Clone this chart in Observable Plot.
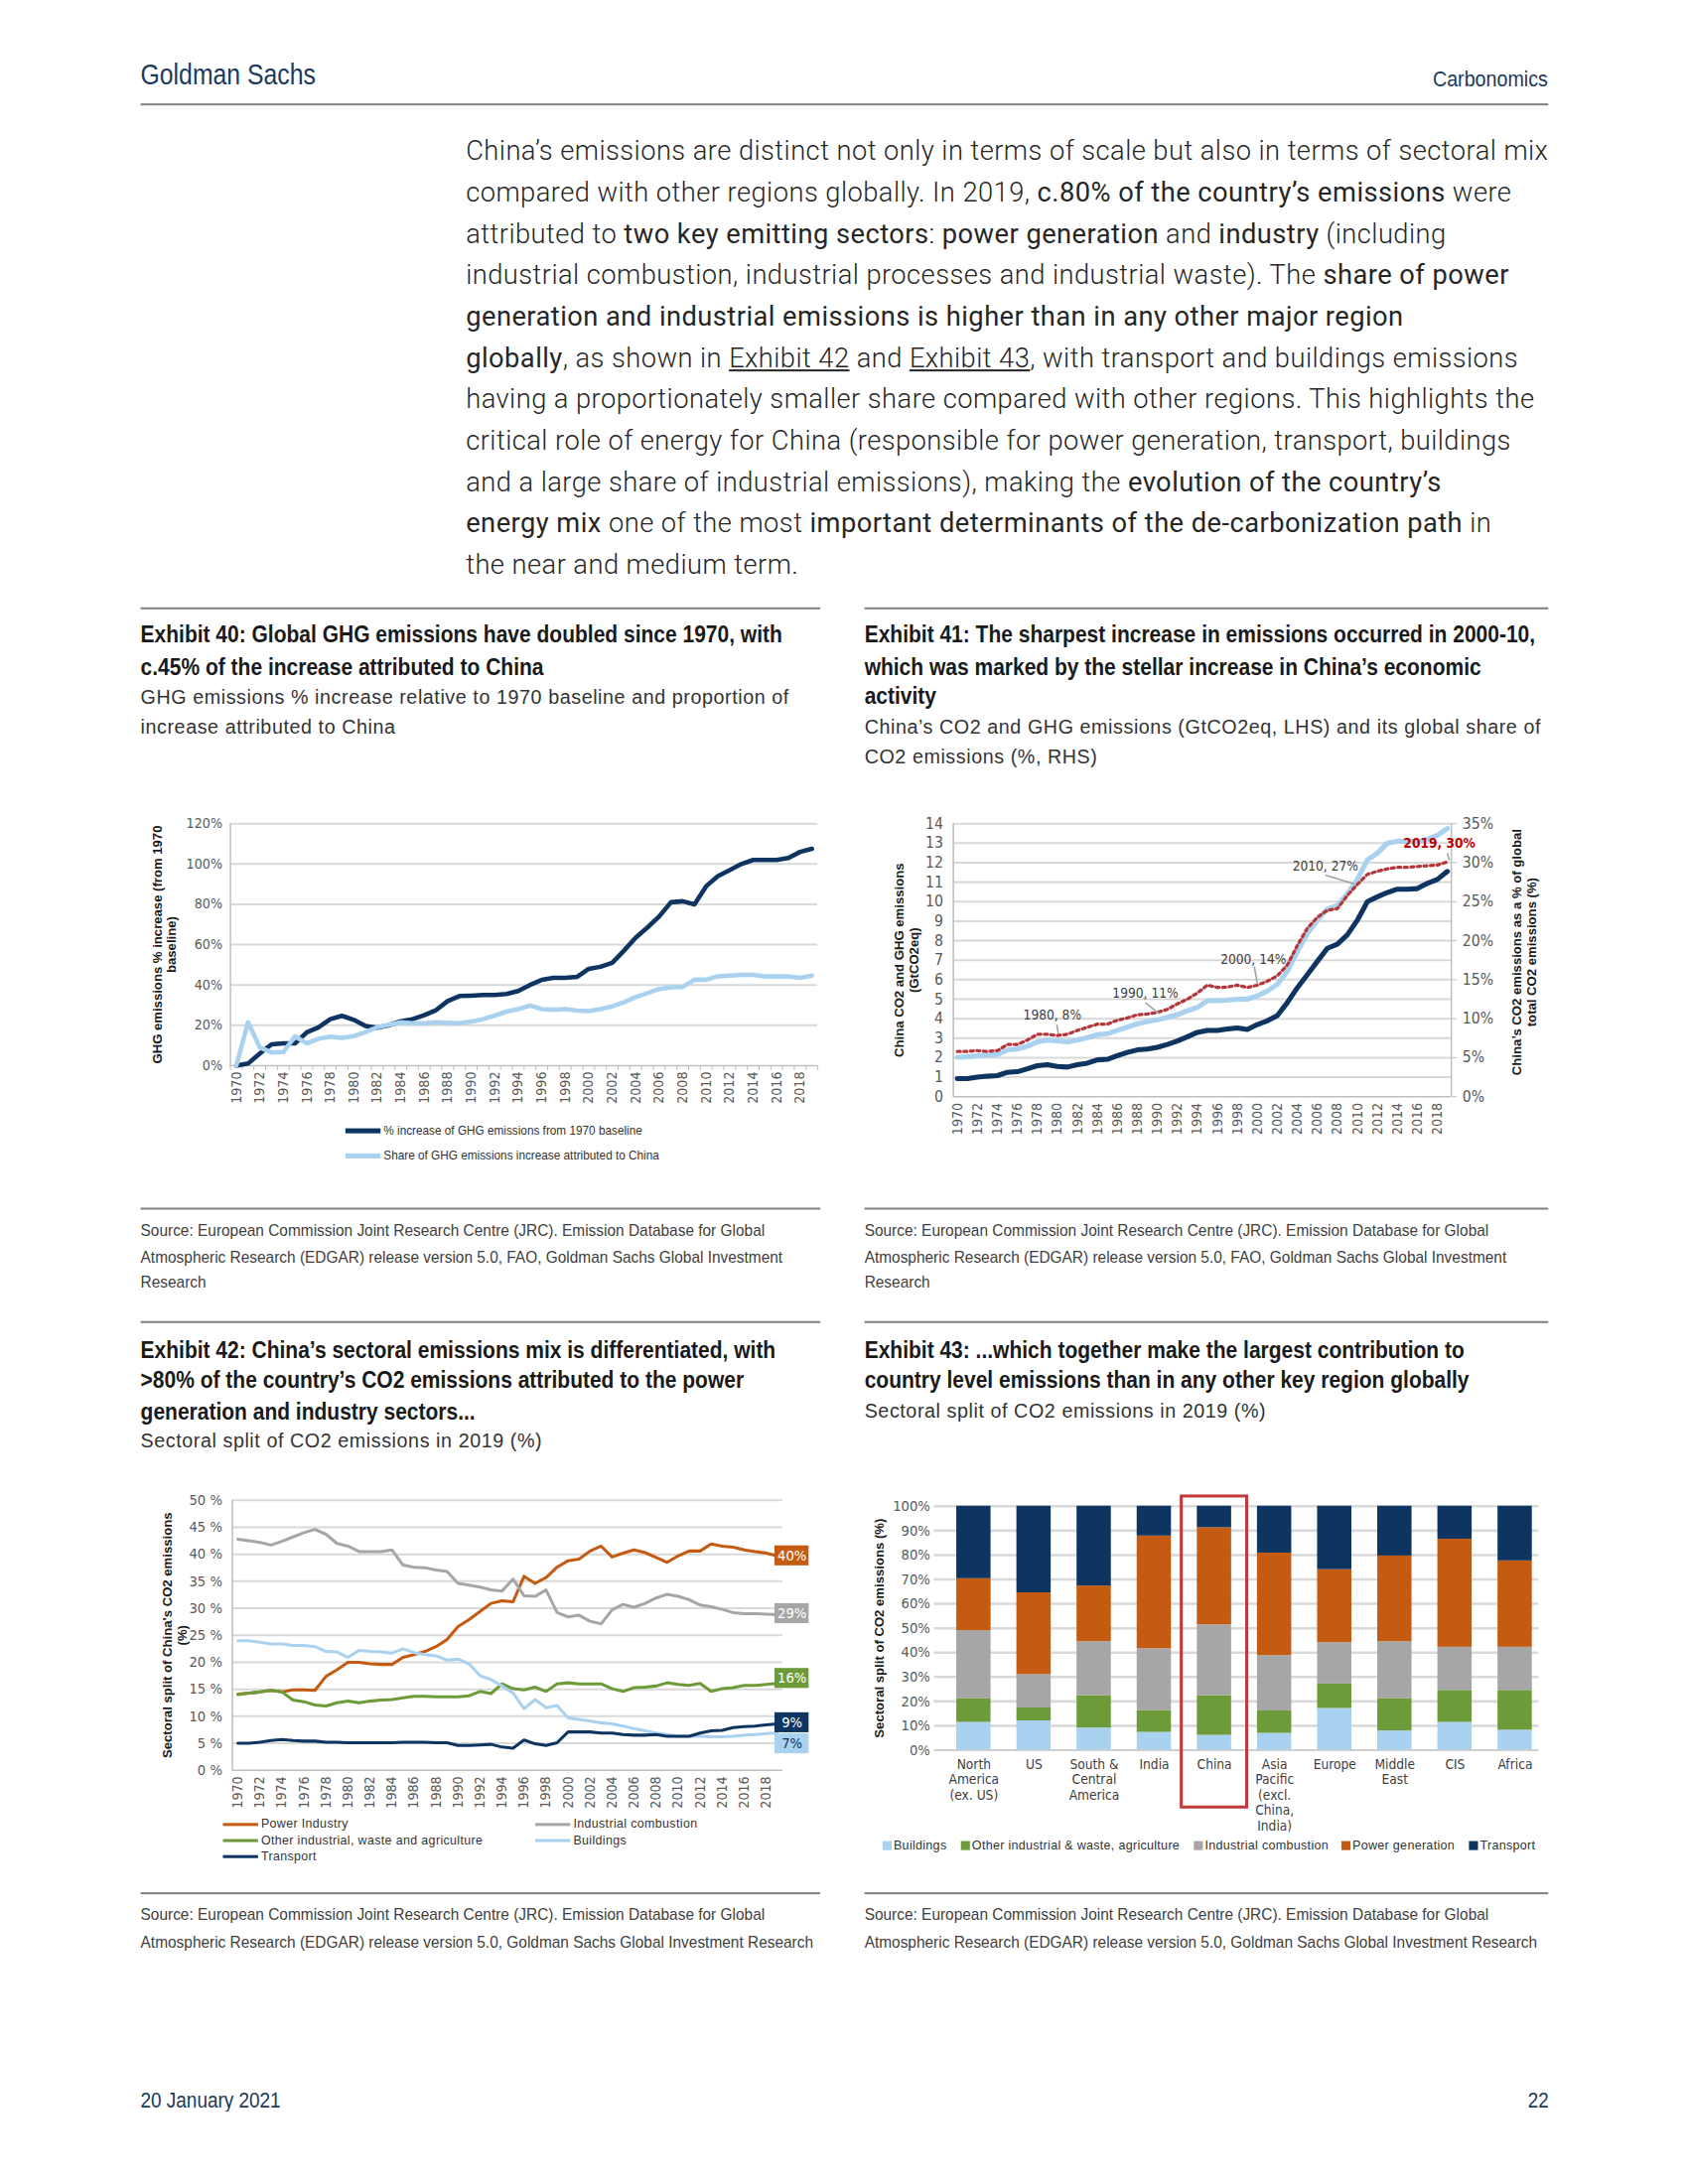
<!DOCTYPE html>
<html><head><meta charset="utf-8">
<script src="https://cdn.jsdelivr.net/npm/d3@7"></script>
<script src="https://cdn.jsdelivr.net/npm/@observablehq/plot@0.6"></script>
<style>
body{margin:0;background:#fff;overflow:hidden;}
#page{position:relative;width:1700px;height:2200px;background:#fff;transform-origin:0 0;}
#page svg{overflow:visible;}
</style></head><body><div id="page"></div>
<script>
// ---------- DATA ----------
const years = d3.range(1970, 2020);
const yearTicks = d3.range(1970, 2019, 2);

// Exhibit 40
const ghgIncrease = [0,1,6,10.5,11,11,16.5,19,23,24.7, 22.7,19.6,18.8,20,22,23,25,27.5,32,34.5, 34.7,35,35,35.5,37,40,42.5,43.5,43.5,44, 48,49,51,57,63.5,68.5,74,81,81.5,80, 89,94,97,100,102,102,102,103,106,107.5];
const chinaShareOfIncrease = [0,21.5,9,6.5,6.7,14.5,11,13.3,14.3,13.7, 14.6,16.6,19,20.2,21.5,21,21,21.5,21.2,21, 21.8,23,24.8,26.8,28,29.8,28,27.6,28,27.3, 27,28,29.4,31.4,34,36,38,38.8,39,42.6, 42.6,44.3,44.6,45,45,44.2,44.2,44.2,43.5,44.6];
const ex40Ticks = [0,20,40,60,80,100,120];
const ex40Names = ["% increase of GHG emissions from 1970 baseline", "Share of GHG emissions increase attributed to China"];

// Exhibit 41
const chinaCO2 = [0.93,0.93,1.0,1.05,1.08,1.25,1.28,1.43,1.59,1.64, 1.55,1.52,1.64,1.72,1.89,1.92,2.1,2.27,2.4,2.44, 2.53,2.68,2.86,3.07,3.3,3.4,3.4,3.47,3.52,3.45, 3.7,3.89,4.16,4.83,5.59,6.26,6.94,7.61,7.82,8.3, 9.05,10.0,10.25,10.47,10.64,10.64,10.67,10.94,11.14,11.55];
const chinaGHG = [2.02,2.05,2.1,2.14,2.17,2.4,2.44,2.59,2.81,2.9, 2.86,2.81,2.9,3.03,3.18,3.23,3.4,3.57,3.74,3.85, 3.94,4.07,4.21,4.41,4.58,4.92,4.92,4.95,5.0,5.0, 5.17,5.42,5.76,6.43,7.44,8.37,9.04,9.63,9.8,10.4, 11.14,12.15,12.49,13.0,13.1,13.1,13.08,13.2,13.4,13.75];
const chinaCO2SharePct = [5.8,5.8,5.9,5.8,5.9,6.7,6.7,7.25,8.0,8.0, 7.85,8.0,8.5,8.9,9.3,9.3,9.8,10.1,10.5,10.6, 10.8,11.2,11.9,12.5,13.3,14.3,14.0,14.05,14.3,14.0, 14.3,14.8,15.5,16.9,19.4,21.6,23.0,23.9,24.1,25.8, 27.2,28.5,28.9,29.2,29.4,29.4,29.5,29.6,29.7,30.1];
const ex41LeftTicks = [0,1,2,3,4,5,6,7,8,9,10,11,12,13,14];
const ex41RightTicks = [0,5,10,15,20,25,30,35];
const annYears = [1980,1990,2000,2010,2019];
const annLabels = ["1980, 8%","1990, 11%","2000, 14%","2010, 27%","2019, 30%"];

// Exhibit 42
const power = [14.1,14.3,14.5,14.8,14.5,14.9,14.9,14.8,17.4,18.6, 20.0,20.0,19.7,19.6,19.6,20.9,21.4,22.0,22.9,24.2, 26.6,27.9,29.4,30.9,31.4,31.2,35.9,34.6,35.7,37.6, 38.8,39.1,40.6,41.5,39.5,40.2,40.8,40.3,39.4,38.5, 39.7,40.6,40.6,41.9,41.5,41.3,40.8,40.5,40.2,39.7];
const indComb = [42.8,42.5,42.2,41.7,42.4,43.2,44.0,44.6,43.7,42.0, 41.5,40.5,40.5,40.5,40.8,38.0,37.6,37.5,37.1,36.8, 34.6,34.3,33.9,33.4,33.2,35.4,32.3,32.2,33.4,29.2, 28.4,28.7,27.6,27.1,29.7,30.7,30.2,30.9,31.9,32.6, 32.2,31.6,30.6,30.3,29.8,29.2,29.0,29.0,28.9,28.8];
const otherInd = [14.0,14.3,14.5,14.8,14.5,13.0,12.7,12.1,11.9,12.5, 12.8,12.5,12.8,13.0,13.1,13.4,13.7,13.7,13.6,13.6, 13.6,13.8,14.6,14.2,16.0,15.1,14.9,15.4,14.6,16.0, 16.2,16.0,16.0,16.0,15.1,14.6,15.3,15.4,15.6,16.2, 15.9,15.7,16.1,14.6,15.1,15.3,15.7,15.7,15.9,16.1];
const buildings = [24.0,24.0,23.7,23.4,23.4,23.1,23.1,22.9,22.0,21.9, 20.9,22.2,22.0,21.9,21.7,22.5,21.8,21.4,21.2,20.4, 20.6,19.7,17.5,16.8,15.6,14.3,11.4,13.1,11.6,12.0, 9.7,9.4,9.1,8.8,8.6,8.2,7.7,7.3,6.9,6.6, 6.3,6.3,6.3,6.2,6.2,6.3,6.5,6.6,6.8,6.9];
const transport = [5.0,5.0,5.2,5.5,5.7,5.5,5.4,5.4,5.2,5.2, 5.1,5.1,5.1,5.1,5.1,5.2,5.2,5.2,5.1,5.1, 4.6,4.6,4.7,4.8,4.3,4.1,5.6,4.9,4.6,5.1, 7.1,7.1,7.1,6.9,6.9,6.6,6.5,6.5,6.6,6.3, 6.3,6.3,6.9,7.3,7.4,7.9,8.1,8.2,8.4,8.6];
const ex42Names = ["Power Industry","Industrial combustion","Other industrial, waste and agriculture","Buildings","Transport"];
const ex42EndLabels = ["40%","29%","16%","7%","9%"];
const ex42Ticks = [0,5,10,15,20,25,30,35,40,45,50];

// Exhibit 43
const regions = ["North America (ex. US)","US","South & Central America","India","China","Asia Pacific (excl. China, India)","Europe","Middle East","CIS","Africa"];
const regionLabels = ["North\nAmerica\n(ex. US)","US","South &\nCentral\nAmerica","India","China","Asia\nPacific\n(excl.\nChina,\nIndia)","Europe","Middle\nEast","CIS","Africa"];
const sectors43 = ["Buildings","Other industrial & waste, agriculture","Industrial combustion","Power generation","Transport"];
const buildings43 = [11.4,12.0,9.1,7.3,6.1,6.9,17.1,7.9,11.4,8.2];
const other43 = [9.8,5.3,13.3,9.0,16.3,9.2,10.0,13.3,13.1,16.3];
const indComb43 = [27.8,13.7,22.1,25.3,29.0,22.7,17.0,23.3,17.7,17.7];
const power43 = [21.3,33.5,22.8,46.2,39.8,42.0,29.9,35.1,44.3,35.4];
const transport43 = [29.7,35.5,32.7,12.2,8.8,19.2,26.0,20.4,13.5,22.4];
const ex43Ticks = [0,10,20,30,40,50,60,70,80,90,100];

// ---------- STYLE ----------
const COND = "'DejaVu Sans Condensed','DejaVu Sans',sans-serif";
const SANS = "'Liberation Sans',Arial,sans-serif";
const BODY = "Roboto,'Open Sans',sans-serif";
const NAVY = "#0e3561", LIGHT = "#a9d1f0", ORANGE = "#c55a11", GRAY = "#a6a6a6", GREEN = "#6d9b3a", RED = "#b5373b";
const GRID = "#d9d9d9", AXIS = "#bfbfbf", TICK = "#595959", HEAD = "#1b3a5c";

const page = document.getElementById("page");
function T(x, y, html, o = {}) {
  const d = document.createElement("div");
  const size = o.size || 16;
  d.style.cssText = `position:absolute;white-space:nowrap;line-height:${size*1.2}px;top:${y - size*0.6}px;font-size:${size}px;font-family:${o.family||SANS};font-weight:${o.weight||400};color:${o.color||"#333"};letter-spacing:${o.ls||0}px;`;
  if (o.align === "right") { d.style.right = (1700 - x) + "px"; d.style.transformOrigin = "right center"; }
  else { d.style.left = x + "px"; d.style.transformOrigin = "left center"; }
  d.innerHTML = html;
  page.appendChild(d);
  return d;
}
function fit(els, ref, target) {
  const s = target / ref.offsetWidth;
  els.forEach(e => e.style.transform = `scaleX(${s})`);
}
function R(x1, x2, y, color = "#808080", h = 2) {
  const d = document.createElement("div");
  d.style.cssText = `position:absolute;left:${x1}px;top:${y}px;width:${x2-x1}px;height:${h}px;background:${color};`;
  page.appendChild(d);
}
function place(el, x, y) {
  const d = document.createElement("div");
  d.style.cssText = `position:absolute;left:${x}px;top:${y}px;`;
  d.appendChild(el);
  page.appendChild(d);
}
const plotStyle = {fontFamily: COND, fontSize: "14px", background: "transparent", color: TICK, overflow: "visible"};
const titleOpts = {size: 23, weight: 700, color: "#1a1a1a"};
const subOpts = {size: 20.5, color: "#333", ls: 0.6};
const srcOpts = {size: 17, color: "#404040"};

// ---------- HEADER & BODY ----------
fit([T(140, 74, "Goldman Sachs", {size: 29, color: HEAD})], page.lastChild, 174);
fit([T(1542, 79, "Carbonomics", {size: 22, color: HEAD, align: "right"})], page.lastChild, 115);
R(140, 1542, 103);

const bodyLines = [
  "China’s emissions are distinct not only in terms of scale but also in terms of sectoral mix",
  "compared with other regions globally. In 2019, <b>c.80% of the country’s emissions</b> were",
  "attributed to <b>two key emitting sectors</b>: <b>power generation</b> and <b>industry</b> (including",
  "industrial combustion, industrial processes and industrial waste). The <b>share of power</b>",
  "<b>generation and industrial emissions is higher than in any other major region</b>",
  "<b>globally</b>, as shown in <u>Exhibit 42</u> and <u>Exhibit 43</u>, with transport and buildings emissions",
  "having a proportionately smaller share compared with other regions. This highlights the",
  "critical role of energy for China (responsible for power generation, transport, buildings",
  "and a large share of industrial emissions), making the <b>evolution of the country’s</b>",
  "<b>energy mix</b> one of the most <b>important determinants of the de-carbonization path</b> in",
  "the near and medium term."
];
const bodyY = [150,192,233,274,315,357,397,439,481,521,563];
const bodyEls = bodyLines.map((l, i) => T(464, bodyY[i], l, {size: 27, family: BODY, weight: 300, color: "#262626"}));
{
  const ls = (1078 - bodyEls[0].offsetWidth) / bodyLines[0].length;
  bodyEls.forEach(e => e.style.letterSpacing = ls + "px");
}
R(140, 817, 605); R(861, 1542, 605);

// ---------- EXHIBIT 40 / 41 TEXT ----------
const titles = [], subs = [];
titles.push(T(140, 633, "Exhibit 40: Global GHG emissions have doubled since 1970, with", titleOpts));
titles.push(T(140, 665, "c.45% of the increase attributed to China", titleOpts));
subs.push(T(140, 694, "GHG emissions % increase relative to 1970 baseline and proportion of", subOpts));
subs.push(T(140, 724, "increase attributed to China", subOpts));
titles.push(T(861, 633, "Exhibit 41: The sharpest increase in emissions occurred in 2000-10,", titleOpts));
titles.push(T(861, 665, "which was marked by the stellar increase in China’s economic", titleOpts));
titles.push(T(861, 694, "activity", titleOpts));
subs.push(T(861, 724, "China’s CO2 and GHG emissions (GtCO2eq, LHS) and its global share of", subOpts));
subs.push(T(861, 753, "CO2 emissions (%, RHS)", subOpts));

// ---------- EXHIBIT 40 CHART ----------
{
  const d40 = years.map((y, i) => ({year: y, inc: ghgIncrease[i], share: chinaShareOfIncrease[i]}));
  const svg = Plot.plot({
    width: 684, height: 310, marginLeft: 89, marginRight: 10, marginTop: 20, marginBottom: 49,
    style: plotStyle,
    x: {domain: [1969.5, 2019.5], label: null},
    y: {domain: [0, 120], label: null},
    marks: [
      Plot.gridY(ex40Ticks.slice(1), {stroke: GRID, strokeOpacity: 1, strokeWidth: 2}),
      Plot.ruleX([1969.5], {stroke: AXIS, strokeWidth: 1.5}),
      Plot.ruleY([0], {stroke: AXIS, strokeWidth: 1.5}),
      Plot.ruleX(d3.range(1969.5, 2020, 1), {y1: 0, y2: -2.5, stroke: AXIS}),
      Plot.axisY(ex40Ticks, {tickSize: 0, tickPadding: 8, tickFormat: d => d + "%", fill: TICK, fontSize: 14, label: null}),
      Plot.axisX(yearTicks, {tickSize: 0, tickRotate: -90, tickPadding: 6, tickFormat: d => String(d), fill: TICK, fontSize: 14, label: null}),
      Plot.line(d40, {x: "year", y: "inc", stroke: NAVY, strokeWidth: 4.5}),
      Plot.line(d40, {x: "year", y: "share", stroke: LIGHT, strokeWidth: 4.5}),
      Plot.text(["GHG emissions % increase (from 1970\nbaseline)"], {frameAnchor: "left", dx: -66, rotate: -90, textAnchor: "middle", fontFamily: SANS, fontWeight: 700, fontSize: 13, fill: "#1a1a1a", lineHeight: 1.1})
    ]
  });
  place(svg, 140, 800);
  const lgEls = [];
  [[NAVY, 1126], [LIGHT, 1151]].forEach(([c, y], k) => {
    R(344, 379, y - 2, c, 5);
    lgEls.push(T(382, y, ex40Names[k], {size: 13, color: "#333"}));
  });
  fit(lgEls, lgEls[0], 258);
}

// ---------- EXHIBIT 41 CHART ----------
{
  const d41 = years.map((y, i) => ({year: y, co2: chinaCO2[i], ghg: chinaGHG[i], share: chinaCO2SharePct[i] / 2.5}));
  const ann = annYears.map((y, i) => ({year: y, label: annLabels[i], v: chinaCO2SharePct[years.indexOf(y)] / 2.5}));
  const off = [[-0.5, 1.05, -0.05, 0.55, 0.1, 0.1], [-1.2, 0.97, -1.2, 0.51, 0.2, -0.08], [-0.4, 1.3, -0.3, 0.96, 0, 0.05], [-3.2, 0.94, -3.2, 0.48, -0.3, 0.02], [-0.8, 0.96, 0, 0.45, 0.2, 0.08]];
  const annMarks = [];
  ann.forEach((a, i) => {
    const o = off[i];
    annMarks.push(Plot.link([a], {x1: d => d.year + o[2], y1: d => d.v + o[3], x2: d => d.year + o[4], y2: d => d.v + o[5], stroke: "#a0a0a0", strokeWidth: 1.5}));
    annMarks.push(Plot.text([a], {x: d => d.year + o[0], y: d => d.v + o[1], text: "label",
      fill: i === 4 ? "#c00000" : "#404040", fontWeight: i === 4 ? 700 : 400, fontSize: 13.5}));
  });
  const svg = Plot.plot({
    width: 670, height: 337, marginLeft: 79, marginRight: 95, marginTop: 20, marginBottom: 45,
    style: plotStyle,
    x: {domain: [1969.6, 2019.4], label: null},
    y: {domain: [0, 14], label: null},
    marks: [
      Plot.gridY(ex41LeftTicks.slice(1), {stroke: GRID, strokeOpacity: 1, strokeWidth: 2}),
      Plot.ruleX([1969.6, 2019.4], {stroke: AXIS, strokeWidth: 1.5}),
      Plot.ruleY([0], {stroke: AXIS, strokeWidth: 1.5}),
      Plot.axisY(ex41LeftTicks, {tickSize: 0, tickPadding: 10, fill: TICK, fontSize: 15.5, label: null}),
      Plot.axisY(ex41RightTicks.map(p => p / 2.5), {anchor: "right", tickSize: 5, tickPadding: 6, stroke: AXIS, tickFormat: d => Math.round(d * 2.5) + "%", fill: TICK, fontSize: 15.5, label: null}),
      Plot.axisX(yearTicks, {tickSize: 0, tickRotate: -90, tickPadding: 6, tickFormat: d => String(d), fill: TICK, fontSize: 14, label: null}),
      Plot.line(d41, {x: "year", y: "co2", stroke: NAVY, strokeWidth: 5}),
      Plot.line(d41, {x: "year", y: "ghg", stroke: LIGHT, strokeWidth: 5}),
      Plot.line(d41, {x: "year", y: "share", stroke: RED, strokeWidth: 3.2, strokeDasharray: "3,3.5"}),
      ...annMarks,
      Plot.text(["China CO2 and GHG emissions\n(GtCO2eq)"], {frameAnchor: "left", dx: -47, rotate: -90, textAnchor: "middle", fontFamily: SANS, fontWeight: 700, fontSize: 13, fill: "#1a1a1a", lineHeight: 1.15}),
      Plot.text(["China’s CO2 emissions as a % of global\ntotal CO2 emissions (%)"], {frameAnchor: "right", dx: 72, dy: -8, rotate: -90, textAnchor: "middle", fontFamily: SANS, fontWeight: 700, fontSize: 13, fill: "#1a1a1a", lineHeight: 1.15})
    ]
  });
  place(svg, 870, 800);
}

// ---------- SOURCES (top) ----------
const srcs = [];
R(140, 817, 1203); R(861, 1542, 1203);
const src1 = ["Source: European Commission Joint Research Centre (JRC). Emission Database for Global",
  "Atmospheric Research (EDGAR) release version 5.0, FAO, Goldman Sachs Global Investment", "Research"];
[1226, 1253, 1278].forEach((y, i) => { srcs.push(T(140, y, src1[i], srcOpts)); srcs.push(T(861, y, src1[i], srcOpts)); });
R(140, 817, 1316); R(861, 1542, 1316);

// ---------- EXHIBIT 42 / 43 TEXT ----------
titles.push(T(140, 1346, "Exhibit 42: China’s sectoral emissions mix is differentiated, with", titleOpts));
titles.push(T(140, 1376, "&gt;80% of the country’s CO2 emissions attributed to the power", titleOpts));
titles.push(T(140, 1407, "generation and industry sectors...", titleOpts));
subs.push(T(140, 1435, "Sectoral split of CO2 emissions in 2019 (%)", subOpts));
titles.push(T(861, 1346, "Exhibit 43: ...which together make the largest contribution to", titleOpts));
titles.push(T(861, 1376, "country level emissions than in any other key region globally", titleOpts));
subs.push(T(861, 1405, "Sectoral split of CO2 emissions in 2019 (%)", subOpts));

// ---------- EXHIBIT 42 CHART ----------
{
  const series = [power, indComb, otherInd, buildings, transport];
  const colors = [ORANGE, GRAY, GREEN, LIGHT, NAVY];
  const d42 = [];
  series.forEach((s, k) => years.forEach((y, i) => d42.push({year: y, v: s[i], name: ex42Names[k]})));
  const endOff = [0, 0.2, 0.9, -2.0, 0.2];
  const ends = series.map((s, k) => ({v: s[s.length - 1] + endOff[k], label: ex42EndLabels[k], color: colors[k], tc: k === 3 ? NAVY : "#ffffff"}));
  const svg = Plot.plot({
    width: 680, height: 328, marginLeft: 81, marginRight: 51, marginTop: 14, marginBottom: 45,
    style: plotStyle,
    x: {domain: [1969.5, 2019.5], label: null},
    y: {domain: [0, 50], label: null},
    color: {domain: ex42Names, range: colors},
    marks: [
      Plot.gridY(ex42Ticks.slice(1), {stroke: GRID, strokeOpacity: 1, strokeWidth: 2}),
      Plot.ruleX([1969.5], {stroke: AXIS, strokeWidth: 1.5}),
      Plot.ruleY([0], {stroke: AXIS, strokeWidth: 1.5}),
      Plot.axisY(ex42Ticks, {tickSize: 0, tickPadding: 10, tickFormat: d => d + " %", fill: TICK, fontSize: 14.5, label: null}),
      Plot.axisX(yearTicks, {tickSize: 0, tickRotate: -90, tickPadding: 6, tickFormat: d => String(d), fill: TICK, fontSize: 14, label: null}),
      Plot.line(d42, {x: "year", y: "v", z: "name", stroke: "name", strokeWidth: 3}),
      Plot.rect(ends, {x1: 2018.8, x2: 2021.9, y1: d => d.v - 1.85, y2: d => d.v + 1.85, fill: "color"}),
      Plot.text(ends, {x: 2020.35, y: "v", text: "label", fill: "tc", fontSize: 14.5}),
      Plot.text(["Sectoral split of China's CO2 emissions\n(%)"], {frameAnchor: "left", dx: -58, rotate: -90, textAnchor: "middle", fontFamily: SANS, fontWeight: 700, fontSize: 13, fill: "#1a1a1a", lineHeight: 1.15})
    ]
  });
  place(svg, 150, 1480);
  const lgEls = [];
  const lg = [[0, 222, 1817], [1, 533, 1817], [2, 222, 1833], [3, 533, 1833], [4, 222, 1849]];
  lg.forEach(([k, x, y]) => {
    R(x, x + 35, y - 1, colors[k], 3);
    lgEls.push(T(x + 38, y, ex42Names[k], {size: 13.5, color: "#333", ls: 0.4}));
  });
  fit(lgEls, lgEls[2], 221);
}

// ---------- EXHIBIT 43 CHART ----------
{
  const vals = [buildings43, other43, indComb43, power43, transport43];
  const cols = [LIGHT, GREEN, GRAY, ORANGE, NAVY];
  const d43 = [];
  vals.forEach((s, k) => regions.forEach((r, i) => d43.push({region: r, sector: sectors43[k], v: s[i]})));
  const labelOf = Object.fromEntries(regions.map((r, i) => [r, regionLabels[i]]));
  const svg = Plot.plot({
    width: 718, height: 348, marginLeft: 78, marginRight: 22, marginTop: 20, marginBottom: 85,
    style: plotStyle,
    x: {domain: regions, paddingInner: 0.43, paddingOuter: 0.374, round: false, label: null},
    y: {domain: [0, 100], label: null},
    color: {domain: sectors43, range: cols},
    marks: [
      Plot.gridY(ex43Ticks.slice(1), {stroke: GRID, strokeOpacity: 1, strokeWidth: 2.5, insetRight: 16}),
      Plot.ruleY([0], {stroke: AXIS, strokeWidth: 1.5, insetRight: 16}),
      Plot.axisY(ex43Ticks, {tickSize: 0, tickPadding: 4, tickFormat: d => d + "%", fill: TICK, fontSize: 14.5, label: null}),
      Plot.axisX(regions, {tickSize: 0, tickPadding: 8, tickFormat: d => labelOf[d], fill: "#404040", fontSize: 13.5, lineHeight: 1.13, label: null}),
      Plot.barY(d43, {x: "region", y: "v", fill: "sector", order: sectors43}),
      Plot.barY(["China"], {x: d => d, y1: -23.5, y2: 104, fill: "none", stroke: "#c0393b", strokeWidth: 3, insetLeft: -15.5, insetRight: -15.5}),
      Plot.text(["Sectoral split of CO2 emissions (%)"], {frameAnchor: "left", dx: -55, rotate: -90, textAnchor: "middle", fontFamily: SANS, fontWeight: 700, fontSize: 13, fill: "#1a1a1a"})
    ]
  });
  place(svg, 852, 1480);
  const lgx = [879, 957, 1189, 1336, 1463];
  const lgEls = [];
  sectors43.forEach((s, k) => {
    R(lgx[k], lgx[k] + 9, 1834, cols[k], 9);
    lgEls.push(T(lgx[k] + 11, 1838, s, {size: 13.5, color: "#333", ls: 0.3}));
  });
  fit(lgEls, lgEls[1], 207);
}

// ---------- SOURCES (bottom) & FOOTER ----------
R(140, 817, 1885); R(861, 1542, 1885);
const src2 = ["Source: European Commission Joint Research Centre (JRC). Emission Database for Global",
  "Atmospheric Research (EDGAR) release version 5.0, Goldman Sachs Global Investment Research"];
[1908, 1935].forEach((y, i) => { srcs.push(T(140, y, src2[i], srcOpts)); srcs.push(T(861, y, src2[i], srcOpts)); });
fit([T(140, 2092, "20 January 2021", {size: 21, color: HEAD})], page.lastChild, 139);
fit([T(1542, 2092, "22", {size: 21, color: HEAD, align: "right"})], page.lastChild, 139 / 15 * 2.2);

fit(titles, titles[0], 639);
fit(subs, subs[0], 646);
fit(srcs, srcs[0], 622);

page.style.transform = "scale(1.0112)";
</script></body></html>
